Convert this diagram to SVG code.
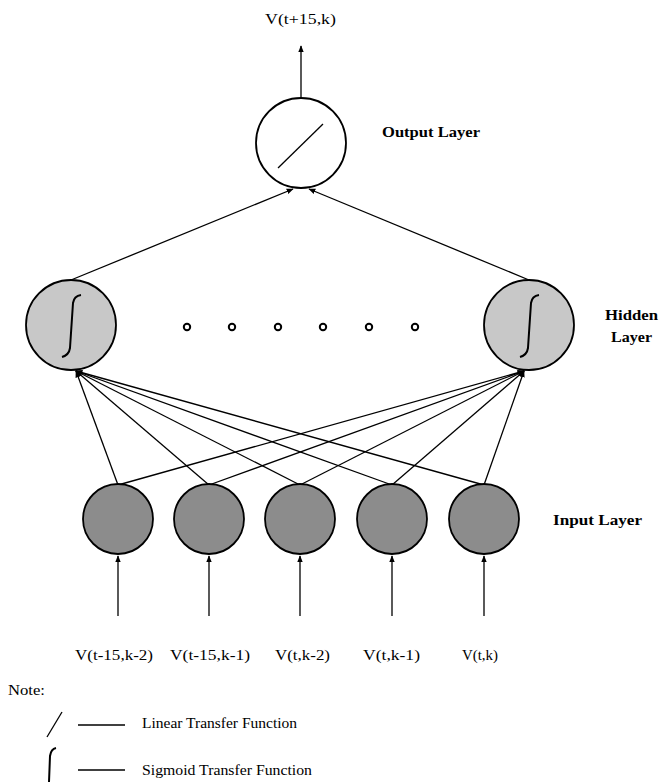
<svg xmlns="http://www.w3.org/2000/svg" width="660" height="782" viewBox="0 0 660 782">
<style>
.t{font-family:"Liberation Serif","Times New Roman",serif;font-size:14px;fill:#000}
.b{font-family:"Liberation Serif","Times New Roman",serif;font-size:14px;font-weight:bold;fill:#000}
.e{stroke:#000;stroke-width:1.3;fill:none}
.n{stroke:#000;stroke-width:1.8}
.d{stroke:#000;stroke-width:2;fill:none}
</style>
<defs>
<marker id="a" viewBox="0 0 10 10" refX="9" refY="5" markerWidth="7" markerHeight="7" orient="auto" markerUnits="userSpaceOnUse">
<path d="M0,1 L10,5 L0,9 z" fill="#000"/>
</marker>
</defs>
<g id="connectors">
<line class="e" x1="301" y1="98" x2="301" y2="46" marker-end="url(#a)"/>
<line class="e" x1="71" y1="280" x2="293" y2="189" marker-end="url(#a)"/>
<line class="e" x1="529" y1="280" x2="309" y2="189" marker-end="url(#a)"/>
<line class="e" x1="118" y1="485" x2="76" y2="371" marker-end="url(#a)"/>
<line class="e" x1="209" y1="485" x2="76" y2="371" marker-end="url(#a)"/>
<line class="e" x1="300" y1="485" x2="76" y2="371" marker-end="url(#a)"/>
<line class="e" x1="392" y1="485" x2="76" y2="371" marker-end="url(#a)"/>
<line class="e" x1="484" y1="485" x2="76" y2="371" marker-end="url(#a)"/>
<line class="e" x1="118" y1="485" x2="524" y2="371" marker-end="url(#a)"/>
<line class="e" x1="209" y1="485" x2="524" y2="371" marker-end="url(#a)"/>
<line class="e" x1="300" y1="485" x2="524" y2="371" marker-end="url(#a)"/>
<line class="e" x1="392" y1="485" x2="524" y2="371" marker-end="url(#a)"/>
<line class="e" x1="484" y1="485" x2="524" y2="371" marker-end="url(#a)"/>
<line class="e" x1="118" y1="616" x2="118" y2="556" marker-end="url(#a)"/>
<line class="e" x1="209" y1="616" x2="209" y2="556" marker-end="url(#a)"/>
<line class="e" x1="300" y1="616" x2="300" y2="556" marker-end="url(#a)"/>
<line class="e" x1="392" y1="616" x2="392" y2="556" marker-end="url(#a)"/>
<line class="e" x1="484" y1="616" x2="484" y2="556" marker-end="url(#a)"/>
</g>
<text class="t" x="265" y="24" textLength="71" lengthAdjust="spacingAndGlyphs">V(t+15,k)</text>
<g id="output">
<circle class="n" cx="301" cy="143" r="45" fill="#fff"/>
<line class="e" x1="278" y1="168" x2="323" y2="124" stroke-width="1.5"/>
</g>
<text class="b" x="382" y="137" textLength="98" lengthAdjust="spacingAndGlyphs">Output Layer</text>
<g id="hidden1">
<circle class="n" cx="71" cy="325" r="45" fill="#c8c8c8"/>
<path class="d" d="M62,357 Q69,355 70,348 L73,303 Q74,296 81,295"/>
</g>
<g id="hidden2">
<circle class="n" cx="529" cy="325" r="45" fill="#c8c8c8"/>
<path class="d" d="M520,357 Q527,355 528,348 L531,303 Q532,296 539,295"/>
</g>
<g id="dots" class="d">
<circle cx="187" cy="327" r="3.2"/>
<circle cx="232" cy="327" r="3.2"/>
<circle cx="278" cy="327" r="3.2"/>
<circle cx="323" cy="327" r="3.2"/>
<circle cx="369" cy="327" r="3.2"/>
<circle cx="415" cy="327" r="3.2"/>
</g>
<text class="b" x="605" y="320" textLength="53" lengthAdjust="spacingAndGlyphs">Hidden</text>
<text class="b" x="611" y="342" textLength="41" lengthAdjust="spacingAndGlyphs">Layer</text>
<g id="input1"><circle class="n" cx="118" cy="519" r="35" fill="#8c8c8c"/></g>
<g id="input2"><circle class="n" cx="209" cy="519" r="35" fill="#8c8c8c"/></g>
<g id="input3"><circle class="n" cx="300" cy="519" r="35" fill="#8c8c8c"/></g>
<g id="input4"><circle class="n" cx="392" cy="519" r="35" fill="#8c8c8c"/></g>
<g id="input5"><circle class="n" cx="484" cy="519" r="35" fill="#8c8c8c"/></g>
<text class="b" x="553" y="525" textLength="89" lengthAdjust="spacingAndGlyphs">Input Layer</text>
<text class="t" x="75" y="660" textLength="78" lengthAdjust="spacingAndGlyphs">V(t-15,k-2)</text>
<text class="t" x="170" y="660" textLength="80" lengthAdjust="spacingAndGlyphs">V(t-15,k-1)</text>
<text class="t" x="275" y="660" textLength="55" lengthAdjust="spacingAndGlyphs">V(t,k-2)</text>
<text class="t" x="363" y="660" textLength="57" lengthAdjust="spacingAndGlyphs">V(t,k-1)</text>
<text class="t" x="462" y="660" textLength="36" lengthAdjust="spacingAndGlyphs">V(t,k)</text>
<g id="legend">
<text class="t" x="8" y="695" textLength="37" lengthAdjust="spacingAndGlyphs">Note:</text>
<line class="e" x1="47" y1="737" x2="62" y2="712" stroke-width="1.6"/>
<line class="e" x1="78" y1="725" x2="125" y2="725"/>
<text class="t" x="142" y="728" textLength="155" lengthAdjust="spacingAndGlyphs">Linear Transfer Function</text>
<path class="d" d="M56,748 Q51,749 50,756 L49,782"/>
<line class="e" x1="78" y1="770" x2="125" y2="770"/>
<text class="t" x="142" y="775" textLength="170" lengthAdjust="spacingAndGlyphs">Sigmoid Transfer Function</text>
</g>
</svg>
